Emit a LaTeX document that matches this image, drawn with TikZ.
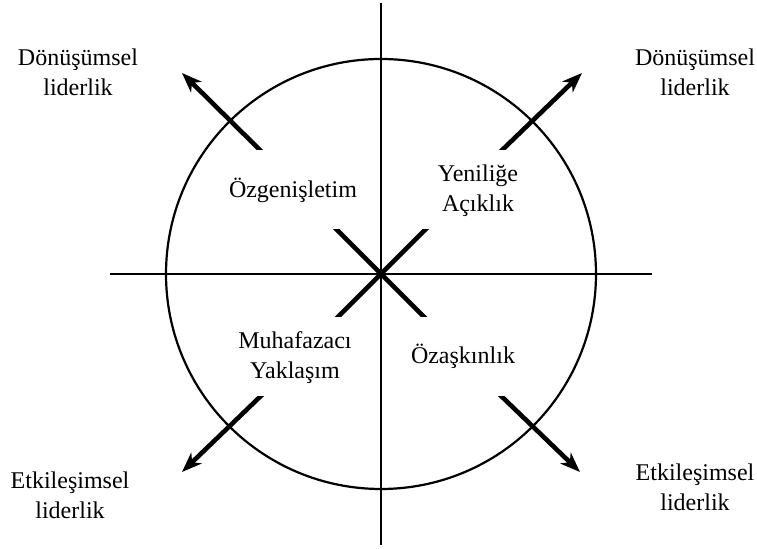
\documentclass[tikz,border=0pt]{standalone}
\usepackage{fontspec}
\setmainfont{Liberation Serif}
\usetikzlibrary{arrows.meta}

\tikzset{
  thinline/.style={line width=1.2pt},
  boldline/.style={line width=2.3pt},
  boldarrow/.style={line width=2.3pt, -{Stealth[length=10pt, width=7.5pt, inset=3pt]}},
  lbl/.style={align=center, font=\fontsize{12}{15}\selectfont, inner sep=0pt}
}

\begin{document}
\begin{tikzpicture}[x=0.5pt, y=-0.5pt]
        \useasboundingbox (0,0) rectangle (757,549);

        % Axes and circle
        \coordinate (o) at (381,274);
        \coordinate (top) at (381,3);
        \coordinate (bot) at (381,545);
        \coordinate (lft) at (110,274);
        \coordinate (rgt) at (652,274);
        \draw [thinline] (top) -- (bot);
        \draw [thinline] (lft) -- (rgt);
        \draw [line width=1.1pt] (o) circle [radius=215];

        % Cross
        \coordinate (c1) at (331,224);
        \coordinate (c2) at (431,324);
        \coordinate (c3) at (431,224);
        \coordinate (c4) at (331,324);
        \begin{scope}
            \clip (320,230) rectangle (442,317);
            \draw [boldline] (c1) -- (c2);
            \draw [boldline] (c3) -- (c4);
        \end{scope}

        % Arrows
        \coordinate (t1) at (265,155);
        \coordinate (h1) at (182,73);
        \coordinate (t2) at (497,155);
        \coordinate (h2) at (582,73);
        \coordinate (t3) at (265,392);
        \coordinate (h3) at (182,472);
        \coordinate (t4) at (497,392);
        \coordinate (h4) at (580,472);
        \begin{scope}
            \clip (0,0) rectangle (757,150);
            \draw [boldarrow] (t1) -- (h1);
            \draw [boldarrow] (t2) -- (h2);
        \end{scope}
        \begin{scope}
            \clip (0,397) rectangle (757,549);
            \draw [boldarrow] (t3) -- (h3);
            \draw [boldarrow] (t4) -- (h4);
        \end{scope}

        % Labels
        \node [lbl] (ozg) at (293,190) {Özgenişletim};
        \node [lbl] (yen) at (478,191) {Yeniliğe\\Açıklık};
        \node [lbl] (muh) at (295,358) {Muhafazacı\\Yaklaşım};
        \node [lbl] (oza) at (463,356) {Özaşkınlık};
        \node [lbl] (d1) at (78,72) {Dönüşümsel\\liderlik};
        \node [lbl] (d2) at (695,72) {Dönüşümsel\\liderlik};
        \node [lbl] (e1) at (70,495) {Etkileşimsel\\liderlik};
        \node [lbl] (e2) at (695,487) {Etkileşimsel\\liderlik};
    \end{tikzpicture}
\end{document}
